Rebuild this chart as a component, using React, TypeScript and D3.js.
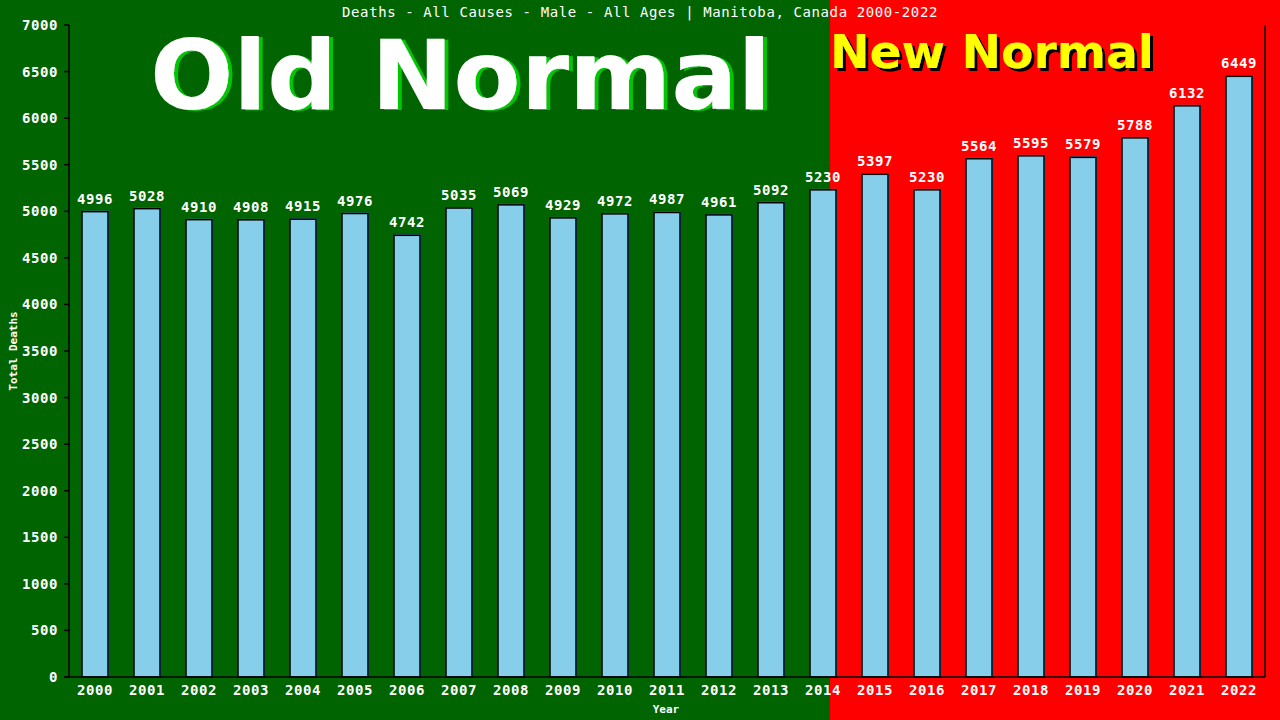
import React from "react";
import * as d3 from "d3";

const years = ["2000","2001","2002","2003","2004","2005","2006","2007","2008","2009","2010","2011","2012","2013","2014","2015","2016","2017","2018","2019","2020","2021","2022"];
const deaths = [4996,5028,4910,4908,4915,4976,4742,5035,5069,4929,4972,4987,4961,5092,5230,5397,5230,5564,5595,5579,5788,6132,6449];
const yTicks = [0,500,1000,1500,2000,2500,3000,3500,4000,4500,5000,5500,6000,6500,7000];
const title = "Deaths - All Causes - Male - All Ages | Manitoba, Canada 2000-2022";

const W = 1280, H = 720;
const left = 69, right = 1265, top = 25, bottom = 677;
const split = 830;
const mono = "'DejaVu Sans Mono', 'Liberation Mono', monospace";
const sans = "'DejaVu Sans', Verdana, sans-serif";

export default function App() {
  const x = d3.scaleBand<string>().domain(years).range([left, right]).paddingInner(0.5).paddingOuter(0.25);
  const y = d3.scaleLinear().domain([0, 7000]).range([bottom, top]);
  const bw = x.bandwidth();
  return (
    <div style={{ position: "fixed", left: 0, top: 0 }}>
      <svg width={W} height={H} style={{ display: "block" }}>
        <defs>
          <filter id="greenShadow" x="-5%" y="-20%" width="110%" height="140%">
            <feOffset in="SourceAlpha" dx={4} dy={1} result="off" />
            <feFlood floodColor="#00c800" />
            <feComposite in2="off" operator="in" result="sh" />
            <feMerge><feMergeNode in="sh" /><feMergeNode in="SourceGraphic" /></feMerge>
          </filter>
          <filter id="blackShadow" x="-5%" y="-20%" width="110%" height="140%">
            <feOffset in="SourceAlpha" dx={3} dy={3} result="off" />
            <feFlood floodColor="#000000" />
            <feComposite in2="off" operator="in" result="sh" />
            <feMerge><feMergeNode in="sh" /><feMergeNode in="SourceGraphic" /></feMerge>
          </filter>
        </defs>
        <rect x={0} y={0} width={split} height={H} fill="#006400" />
        <rect x={split} y={0} width={W - split} height={H} fill="#ff0000" />
        {/* big labels */}
        <text x={150} y={109} fontFamily={sans} fontWeight="bold" fontSize={96} fill="#ffffff" textLength={621} lengthAdjust="spacingAndGlyphs" filter="url(#greenShadow)">Old Normal</text>
        <text x={830} y={68} fontFamily={sans} fontWeight="bold" fontSize={47} fill="#ffff00" textLength={324} lengthAdjust="spacingAndGlyphs" filter="url(#blackShadow)">New Normal</text>
        {/* title */}
        <text x={640} y={17} textAnchor="middle" fontFamily={mono} fontSize={14} letterSpacing={0.6} fill="#ffffff">{title}</text>
        {/* bars */}
        {years.map((yr, i) => {
          const bx = x(yr)!;
          const by = y(deaths[i]);
          return (
            <g key={yr}>
              <rect x={bx + 1} y={by - 1} width={bw} height={bottom - by + 1} fill="#3f86c0" />
              <rect x={bx} y={by} width={bw} height={bottom - by} fill="#87ceeb" stroke="#000" strokeWidth={1.5} />
              <text x={bx + bw / 2} y={by - 8} textAnchor="middle" fontFamily={mono} fontWeight="bold" fontSize={14} letterSpacing={0.6} fill="#ffffff">{deaths[i]}</text>
            </g>
          );
        })}
        {/* axes */}
        <line x1={left} x2={left} y1={top} y2={bottom} stroke="#000" strokeWidth={1.5} />
        <line x1={left - 5} x2={right} y1={bottom} y2={bottom} stroke="#000" strokeWidth={1.5} />
        <line x1={right} x2={right} y1={top} y2={bottom} stroke="#000" strokeWidth={1.5} />
        {yTicks.map((t) => (
          <g key={t}>
            <line x1={left - 5} x2={left} y1={y(t)} y2={y(t)} stroke="#000" strokeWidth={1.5} />
            <text x={58} y={y(t) + 5} textAnchor="end" fontFamily={mono} fontWeight="bold" fontSize={14} letterSpacing={0.6} fill="#ffffff">{t}</text>
          </g>
        ))}
        {years.map((yr) => (
          <text key={yr} x={x(yr)! + bw / 2} y={695} textAnchor="middle" fontFamily={mono} fontWeight="bold" fontSize={14} letterSpacing={0.6} fill="#ffffff">{yr}</text>
        ))}
        <text x={666} y={713} textAnchor="middle" fontFamily={mono} fontWeight="bold" fontSize={11} fill="#ffffff">Year</text>
        <text transform={`translate(17,${351}) rotate(-90)`} textAnchor="middle" fontFamily={mono} fontWeight="bold" fontSize={11} fill="#ffffff">Total Deaths</text>
      </svg>
    </div>
  );
}
